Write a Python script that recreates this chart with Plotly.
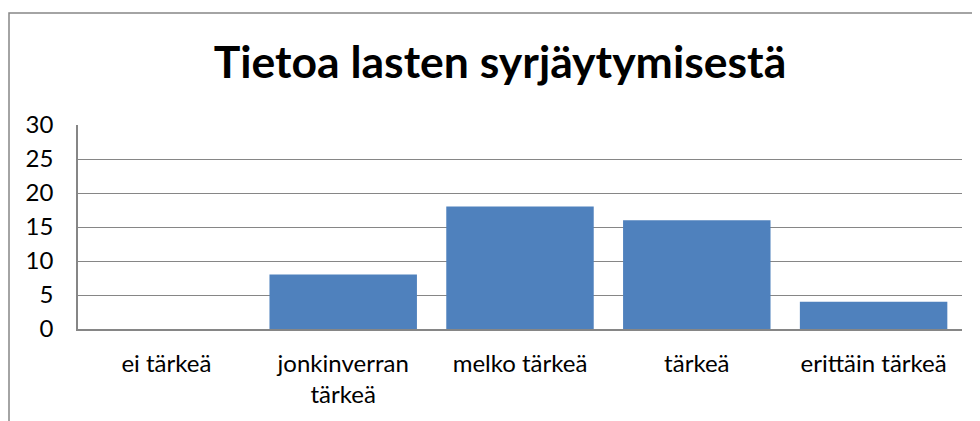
import plotly.graph_objects as go

categories = ["ei tärkeä", "jonkinverran<br>tärkeä", "melko tärkeä", "tärkeä", "erittäin tärkeä"]
values = [0, 8, 18, 16, 4]
y_ticks = [0, 5, 10, 15, 20, 25, 30]

W, H = 980, 421
OFF = 8  # page body margin
L, T = 78 - OFF, 125 - OFF
R = W - (962 - OFF)
B = H - (329 - OFF)
pw, ph = W - L - R, H - T - B

fig = go.Figure(go.Bar(x=categories, y=values, marker=dict(color="#4F81BD", line=dict(width=0))))

font_family = "Lato, Liberation Sans, sans-serif"

fig.update_layout(
    width=W, height=H,
    margin=dict(l=L, r=R, t=T, b=B),
    paper_bgcolor="white", plot_bgcolor="white",
    bargap=0.166,
    showlegend=False,
    title=dict(text="<b>Tietoa lasten syrjäytymisestä</b>", x=(500 - OFF) / W, xanchor="center",
               y=1 - (62 - OFF) / H, yanchor="middle", yref="container",
               font=dict(family=font_family, size=44.5, color="black")),
    font=dict(family=font_family, size=24, color="black"),
    xaxis=dict(showline=True, linecolor="#868686", linewidth=1.5, ticks="",
               ticklabelstandoff=12, tickfont=dict(size=24)),
    yaxis=dict(range=[0, 30], tickvals=y_ticks, showline=True, linecolor="#868686", linewidth=1.5,
               showgrid=True, gridcolor="#868686", gridwidth=1.3, ticks="", zeroline=False,
               ticklabelstandoff=18, tickfont=dict(size=24)),
    shapes=[dict(type="rect", xref="paper", yref="paper",
                 x0=(9 - OFF - L) / pw, x1=(W + 20 - L) / pw,
                 y0=-(B + 20) / ph, y1=1 + (T - (13 - OFF)) / ph,
                 line=dict(color="#868686", width=1.5), layer="below")],
)

fig.write_html("out.html")
